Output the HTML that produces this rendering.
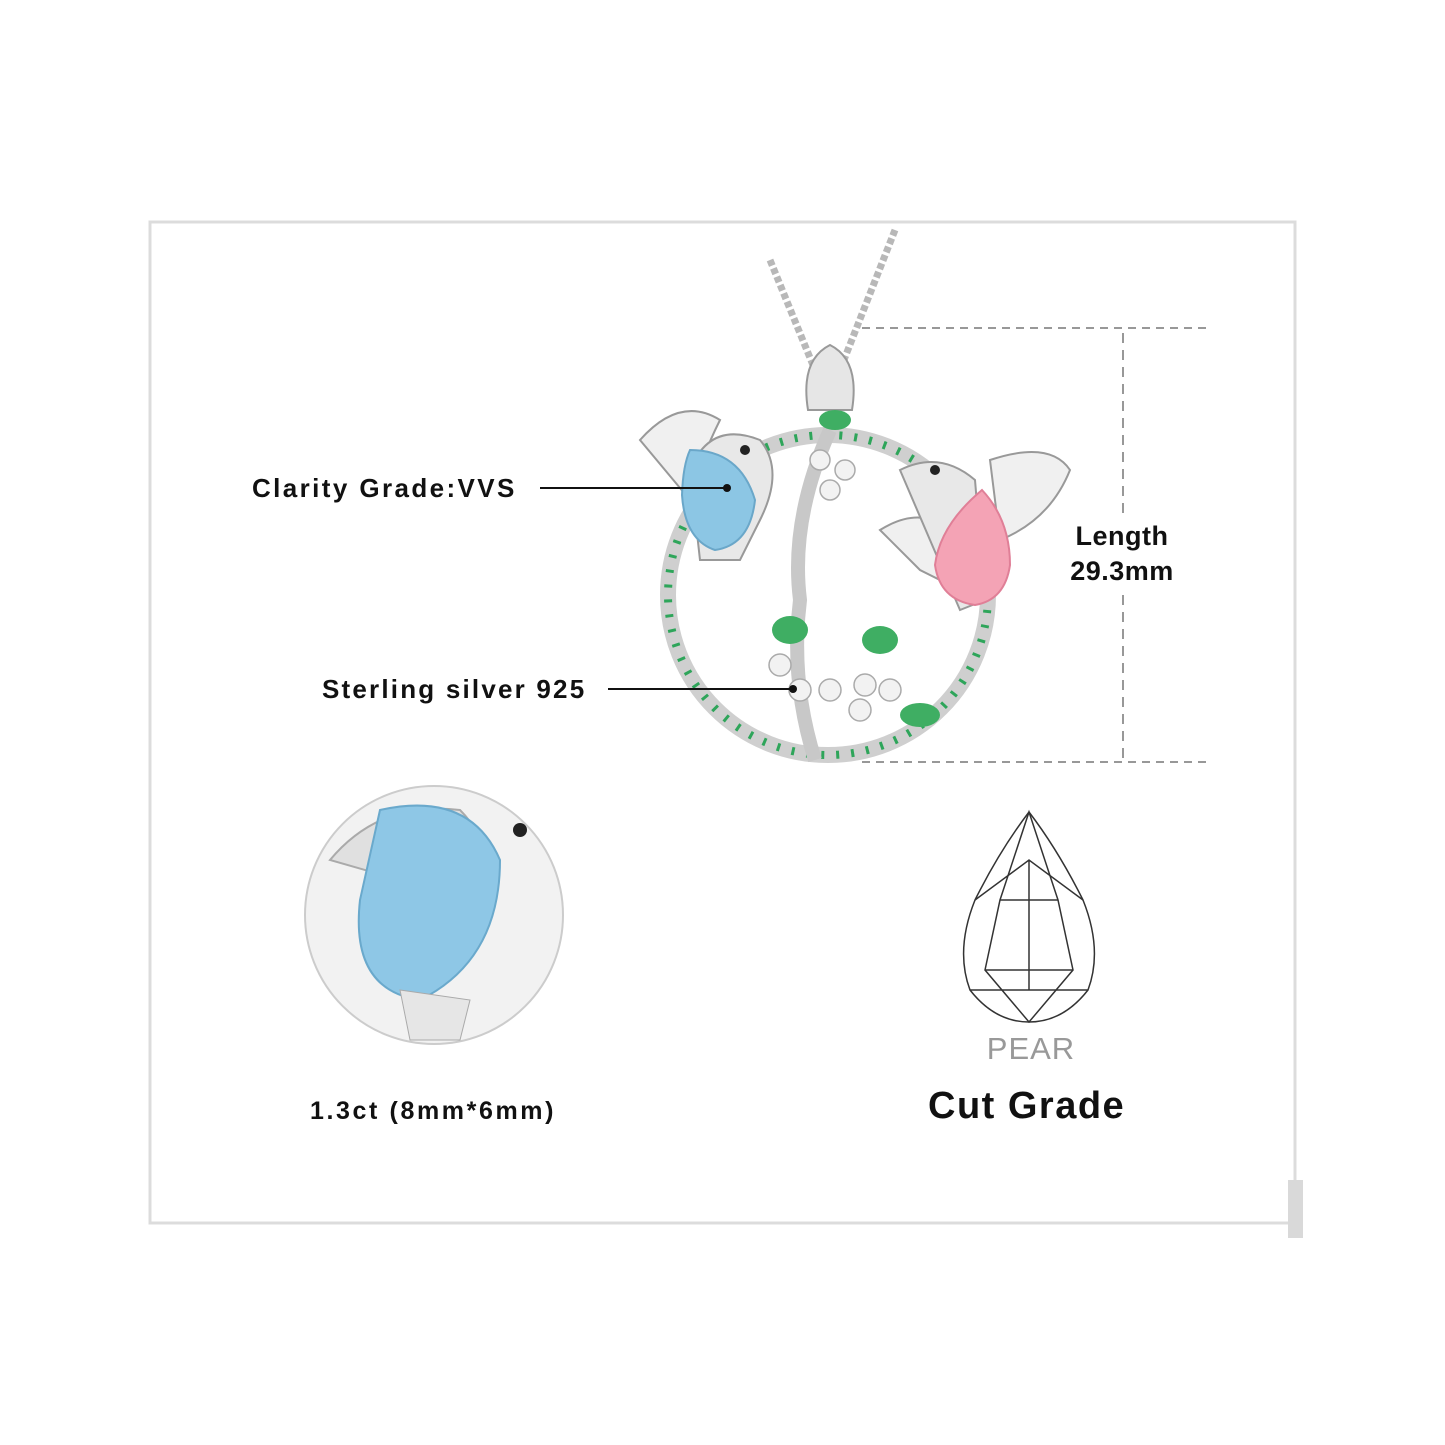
<!DOCTYPE html>
<html><head><meta charset="utf-8"><style>
html,body{margin:0;padding:0;background:#fff}
svg{display:block}
text{font-family:"Liberation Sans",sans-serif}
</style></head><body>
<svg width="1445" height="1445" viewBox="0 0 1445 1445" xmlns="http://www.w3.org/2000/svg">
<rect width="1445" height="1445" fill="#fff"/>
<!-- frame -->
<rect x="150" y="222" width="1145" height="1001" fill="none" stroke="#dcdcdc" stroke-width="3"/>
<rect x="1288" y="1180" width="15" height="58" fill="#d9d9d9"/>
<!-- dimension lines -->
<line x1="862" y1="328" x2="1208" y2="328" stroke="#777" stroke-width="1.5" stroke-dasharray="8,6"/>
<line x1="862" y1="762" x2="1208" y2="762" stroke="#777" stroke-width="1.5" stroke-dasharray="8,6"/>
<line x1="1123" y1="333" x2="1123" y2="515" stroke="#777" stroke-width="1.5" stroke-dasharray="10,7"/>
<line x1="1123" y1="595" x2="1123" y2="758" stroke="#777" stroke-width="1.5" stroke-dasharray="10,7"/>
<text x="1122" y="545" font-size="27" font-weight="bold" text-anchor="middle" fill="#111" letter-spacing="0.5">Length</text>
<text x="1122" y="580" font-size="27" font-weight="bold" text-anchor="middle" fill="#111" letter-spacing="0.5">29.3mm</text>
<!-- chain -->
<path d="M770 260 L815 370 M895 230 L840 370" stroke="#b8b8b8" stroke-width="7" stroke-dasharray="6,3" fill="none"/>
<!-- bail -->
<path d="M808 410 Q800 360 830 345 Q860 360 852 410 Z" fill="#e6e6e6" stroke="#999" stroke-width="2"/>
<!-- ring -->
<circle cx="828" cy="595" r="160" fill="none" stroke="#cfcfcf" stroke-width="16"/>
<circle cx="828" cy="595" r="160" fill="none" stroke="#2ea55a" stroke-width="8" stroke-dasharray="3,12"/>
<!-- center vine -->
<path d="M830 430 Q790 520 800 600 Q790 680 815 760" stroke="#c8c8c8" stroke-width="14" fill="none"/>
<g fill="#f2f2f2" stroke="#aaa" stroke-width="1.5">
<circle cx="780" cy="665" r="11"/><circle cx="800" cy="690" r="11"/><circle cx="830" cy="690" r="11"/>
<circle cx="865" cy="685" r="11"/><circle cx="890" cy="690" r="11"/><circle cx="860" cy="710" r="11"/>
<circle cx="820" cy="460" r="10"/><circle cx="845" cy="470" r="10"/><circle cx="830" cy="490" r="10"/>
</g>
<g fill="#3fae63"><ellipse cx="790" cy="630" rx="18" ry="14"/><ellipse cx="880" cy="640" rx="18" ry="14"/><ellipse cx="920" cy="715" rx="20" ry="12"/><ellipse cx="835" cy="420" rx="16" ry="10"/></g>
<!-- left bird -->
<path d="M640 440 Q680 395 720 420 Q700 460 690 500 Z" fill="#f0f0f0" stroke="#999" stroke-width="2"/>
<path d="M690 470 Q710 420 760 440 Q785 470 760 520 L740 560 L700 560 Z" fill="#e8e8e8" stroke="#999" stroke-width="2"/>
<path d="M690 450 Q740 450 755 500 Q750 545 715 550 Q685 540 682 495 Q683 465 690 450 Z" fill="#8cc6e4" stroke="#6aa7c9" stroke-width="2"/>
<circle cx="745" cy="450" r="5" fill="#222"/>
<!-- right bird -->
<path d="M990 460 Q1050 440 1070 470 Q1050 520 1000 540 Z" fill="#f0f0f0" stroke="#999" stroke-width="2"/>
<path d="M880 530 Q920 505 950 530 L960 590 L920 570 Z" fill="#f0f0f0" stroke="#999" stroke-width="2"/>
<path d="M900 470 Q940 450 975 480 L985 600 L960 610 Z" fill="#e8e8e8" stroke="#999" stroke-width="2"/>
<path d="M982 490 Q1010 520 1010 565 Q1005 600 975 605 Q940 600 935 565 Q940 525 982 490 Z" fill="#f4a3b5" stroke="#e07f97" stroke-width="2"/>
<circle cx="935" cy="470" r="5" fill="#222"/>
<!-- callouts -->
<text x="252" y="497" font-size="26" font-weight="bold" fill="#111" letter-spacing="2.4">Clarity Grade:VVS</text>
<line x1="540" y1="488" x2="727" y2="488" stroke="#111" stroke-width="2"/>
<circle cx="727" cy="488" r="4" fill="#111"/>
<text x="322" y="698" font-size="26" font-weight="bold" fill="#111" letter-spacing="2.2">Sterling silver 925</text>
<line x1="608" y1="689" x2="793" y2="689" stroke="#111" stroke-width="2"/>
<circle cx="793" cy="689" r="4" fill="#111"/>
<!-- detail circle -->
<circle cx="434" cy="915" r="129" fill="#f2f2f2" stroke="#ccc" stroke-width="2"/>
<path d="M330 860 Q380 800 460 810 Q500 850 470 900 Z" fill="#e0e0e0" stroke="#aaa" stroke-width="2"/>
<path d="M380 810 Q470 790 500 860 Q500 960 420 1000 Q350 990 360 900 Z" fill="#8ec7e6" stroke="#6aa9cc" stroke-width="2"/>
<circle cx="520" cy="830" r="7" fill="#222"/>
<path d="M400 990 L470 1000 L460 1040 L410 1040 Z" fill="#e6e6e6" stroke="#aaa"/>
<text x="310" y="1119" font-size="25" font-weight="bold" fill="#111" letter-spacing="2.6">1.3ct (8mm*6mm)</text>
<!-- pear outline -->
<g fill="none" stroke="#333" stroke-width="1.5">
<path d="M1029 812 Q1000 850 975 900 Q955 950 970 990 Q995 1022 1029 1022 Q1063 1022 1088 990 Q1103 950 1083 900 Q1058 850 1029 812 Z"/>
<path d="M1029 812 L1000 900 L985 970 L1029 1022 L1073 970 L1058 900 Z"/>
<path d="M975 900 L1029 860 L1083 900 M970 990 L1029 990 L1088 990 M1000 900 L1058 900 M985 970 L1073 970 M1029 860 L1029 990"/>
</g>
<text x="1031" y="1059" font-size="31" text-anchor="middle" fill="#999" letter-spacing="1">PEAR</text>
<text x="928" y="1118" font-size="38" font-weight="bold" fill="#111" letter-spacing="1.5">Cut Grade</text>
</svg>
</body></html>
